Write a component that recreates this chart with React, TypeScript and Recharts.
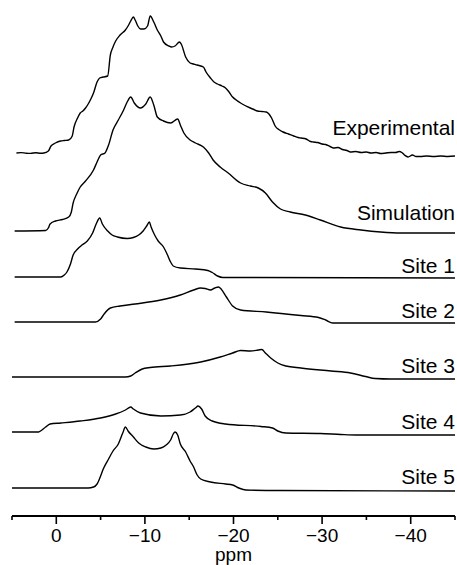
import { LineChart, Line, XAxis, YAxis, LabelList } from "recharts";

// chemical shift (ppm), intensity (a.u., baseline = 0)
const experimental: [number, number][] = [
  [4.5, 0], [4.0, 0.4], [3.4, -0.2], [2.9, -0.4], [2.3, 0.3], [1.8, -0.2], [1.4, 0], [0.9, 2],
  [0.6, 7], [0.1, 10], [-0.5, 12], [-0.9, 12.5], [-1.4, 13], [-1.8, 17], [-2.0, 26], [-2.4, 35],
  [-2.7, 40], [-3.0, 42], [-3.3, 45], [-3.6, 49], [-3.9, 54], [-4.2, 60], [-4.6, 71], [-4.9, 75],
  [-5.3, 76], [-5.8, 77], [-6.1, 98], [-6.4, 106], [-6.7, 112], [-7.2, 118], [-7.8, 123], [-8.1, 127],
  [-8.4, 132], [-8.7, 136], [-8.9, 133], [-9.2, 127], [-9.5, 124], [-9.9, 124], [-10.3, 127], [-10.6, 137],
  [-11.0, 131], [-11.4, 123], [-11.8, 117], [-12.1, 111], [-12.7, 107], [-13.0, 106], [-13.4, 107], [-13.9, 111],
  [-14.1, 109], [-14.6, 96], [-15.1, 90], [-15.5, 89], [-15.9, 88], [-16.6, 86], [-16.9, 81], [-17.4, 75],
  [-17.8, 71], [-18.2, 69], [-18.7, 67], [-19.1, 65], [-19.5, 61], [-19.9, 56], [-20.3, 53], [-20.8, 50],
  [-21.3, 47.5], [-21.9, 45], [-22.3, 43.5], [-22.7, 42], [-23.2, 41.5], [-23.7, 41], [-24.0, 39], [-24.3, 35],
  [-24.7, 27], [-25.2, 23], [-25.6, 21], [-26.2, 19], [-26.8, 17], [-27.3, 15.5], [-27.6, 15], [-28.2, 14],
  [-28.7, 11.5], [-29.0, 11], [-29.5, 10.5], [-30.0, 9], [-30.4, 8.5], [-30.9, 6.5], [-31.3, 5], [-31.8, 5.5],
  [-32.3, 3.5], [-32.8, 2.5], [-33.2, 1], [-33.8, 1.5], [-34.4, 0.5], [-35.0, 1], [-35.5, 0], [-36.1, 0.5],
  [-36.6, -0.5], [-37.2, 0], [-37.8, 0.5], [-38.3, 0.5], [-38.7, 1.5], [-39.0, 0.5], [-39.3, -2], [-39.7, -4],
  [-40.2, -2], [-40.6, -3.5], [-41.1, -3.5], [-41.8, -3], [-42.6, -3.5], [-43.4, -3], [-44.2, -3.5], [-45.0, -3],
];

const simulation: [number, number][] = [
  [4.7, 0], [1.2, 0.5], [0.9, 3], [0.7, 7], [0.1, 10], [-0.7, 11.5], [-1.4, 14], [-1.7, 19],
  [-1.9, 28], [-2.3, 37], [-2.7, 44], [-3.3, 50], [-4.2, 61], [-4.6, 69], [-5.0, 76], [-5.5, 78],
  [-5.9, 86], [-6.4, 101], [-7.0, 111], [-7.6, 121], [-8.0, 129], [-8.4, 134], [-8.8, 128], [-9.5, 123],
  [-10.1, 127], [-10.6, 134], [-11.0, 126], [-11.4, 114], [-12.1, 110], [-12.9, 108], [-13.7, 112], [-14.0, 106],
  [-14.4, 98], [-15.1, 91], [-15.7, 88], [-16.6, 84], [-17.2, 78], [-17.7, 71], [-18.5, 64], [-19.4, 58],
  [-20.8, 48], [-21.9, 45], [-22.8, 43], [-23.6, 38], [-24.4, 29], [-25.3, 22], [-26.4, 19], [-28.1, 16],
  [-29.8, 11], [-32.1, 4], [-34.4, 1], [-36.6, -1], [-38.9, -2], [-45.0, -2],
];

const site1: [number, number][] = [
  [4.7, 0], [-0.5, 0], [-0.9, 2], [-1.2, 5], [-1.6, 13], [-1.9, 22], [-2.4, 28], [-2.9, 32],
  [-3.5, 36], [-4.1, 44], [-4.5, 53], [-4.9, 59], [-5.2, 53], [-5.8, 46], [-6.3, 42], [-6.9, 40],
  [-8.0, 38.5], [-8.7, 39.5], [-9.3, 42], [-9.8, 46], [-10.2, 51], [-10.5, 55], [-10.7, 50], [-11.1, 42],
  [-11.5, 36], [-12.1, 30], [-12.5, 23], [-12.9, 15], [-13.2, 11], [-14.0, 9], [-15.7, 8], [-17.1, 6.5],
  [-17.6, 4.5], [-18.2, 1], [-18.8, -0.5], [-45.0, -1],
];

const site2: [number, number][] = [
  [4.7, 0], [-4.4, 0], [-5.0, 3], [-5.4, 8], [-6.1, 14], [-7.2, 16], [-8.9, 18], [-11.8, 22],
  [-14.0, 27], [-15.5, 32], [-16.3, 34], [-16.8, 33.5], [-17.4, 32], [-17.9, 34], [-18.3, 35], [-18.6, 33],
  [-19.2, 25], [-19.9, 16], [-20.8, 12], [-23.7, 10], [-27.6, 6.5], [-29.6, 4.5], [-30.4, 2], [-31.2, -1],
  [-45.0, -1],
];

const site3: [number, number][] = [
  [5.0, 0], [-7.8, 0], [-8.4, 1], [-8.9, 4], [-9.7, 8], [-10.6, 9.5], [-12.9, 11], [-16.3, 15],
  [-18.5, 20], [-19.9, 24], [-20.8, 26.5], [-21.9, 26], [-22.8, 27], [-23.2, 27.5], [-23.6, 24], [-24.2, 19],
  [-25.0, 14], [-25.9, 11], [-27.6, 9], [-31.0, 6], [-33.2, 4], [-34.9, 0.5], [-36.0, -1.5], [-37.7, -2],
  [-45.0, -2],
];

const site4: [number, number][] = [
  [5.0, 0], [2.0, 0], [1.7, 1.5], [1.2, 5], [0.7, 8], [-0.5, 9], [-2.7, 11], [-5.0, 14],
  [-6.7, 18], [-7.8, 22], [-8.4, 25], [-8.7, 23], [-9.5, 19], [-11.8, 16], [-14.0, 17], [-15.1, 20],
  [-15.7, 24], [-16.0, 26], [-16.4, 23], [-16.8, 16], [-17.6, 11], [-19.1, 8], [-23.1, 5.5], [-24.4, 4],
  [-25.0, 1], [-25.9, -1], [-29.8, -1.5], [-32.1, -2.5], [-33.8, -3], [-45.0, -3],
];

const site5: [number, number][] = [
  [5.0, 0], [-3.6, 0], [-4.2, 1], [-4.6, 4], [-5.0, 12], [-5.3, 19], [-5.9, 29], [-6.4, 37],
  [-7.0, 44], [-7.5, 55], [-7.8, 61], [-8.1, 57], [-8.7, 51], [-9.3, 45], [-10.1, 41], [-11.0, 39],
  [-11.8, 40], [-12.4, 43], [-12.9, 48], [-13.2, 54], [-13.4, 56], [-13.7, 53], [-14.0, 44], [-14.6, 36],
  [-15.1, 27], [-15.5, 21], [-15.9, 13], [-16.3, 9], [-17.4, 6], [-19.1, 4], [-19.9, 3], [-20.6, 0],
  [-21.4, -2], [-25.3, -2.5], [-45.0, -3],
];

const traceNames = ["Experimental", "Simulation", "Site 1", "Site 2", "Site 3", "Site 4", "Site 5"];
const traces = [experimental, simulation, site1, site2, site3, site4, site5];
// vertical stacking of the spectra
const stackOffset = [363, 285, 239, 194, 139, 84, 28];
const labelLift = [21, 13, 5, 5, 6, 6, 7];

const xTicks = [5, 0, -5, -10, -15, -20, -25, -30, -35, -40, -45];

const FONT = "'Liberation Sans', Arial, Helvetica, sans-serif";

const PpmTick = (props: any) => {
  const { x, y, payload } = props;
  const v = payload.value as number;
  const major = v % 10 === 0;
  return (
    <g>
      <line x1={x} y1={y} x2={x} y2={y + (major ? 8 : 4)} stroke="#000" strokeWidth={1.6} />
      {major && (
        <text x={x} y={y + 26} textAnchor="middle" fontSize={19} fontFamily={FONT} fill="#000">
          {v === 0 ? "0" : "\u2212" + Math.abs(v)}
        </text>
      )}
    </g>
  );
};

const makeLabel = (name: string, lift: number, last: number) => (props: any) => {
  if (props.index !== last) return null;
  return (
    <text x={props.x} y={props.y - lift} textAnchor="end" fontSize={21} fontFamily={FONT} fill="#000">
      {name}
    </text>
  );
};

export default function App() {
  const series = traces.map((pts, i) => ({
    name: traceNames[i],
    data: pts.map(([x, y]) => ({ x, y: y + stackOffset[i] })),
  }));

  return (
    <div style={{ position: "fixed", left: 0, top: 0, width: 457, height: 565, background: "#fff" }}>
      <LineChart width={457} height={565} margin={{ top: 10, right: 2, left: 12, bottom: 4 }}>
        <XAxis
          dataKey="x"
          type="number"
          domain={[-45, 5]}
          reversed
          ticks={xTicks}
          interval={0}
          tickLine={false}
          tickSize={0}
          tickMargin={0}
          height={45}
          axisLine={{ stroke: "#000", strokeWidth: 1.8 }}
          tick={<PpmTick />}
          allowDataOverflow
          label={{ value: "ppm", position: "insideBottom", offset: 0, fontSize: 19, fontFamily: FONT, fill: "#000" }}
        />
        <YAxis hide type="number" domain={[0, 506]} allowDataOverflow />
        {series.map((s, i) => (
          <Line
            key={s.name}
            data={s.data}
            dataKey="y"
            type="monotone"
            stroke="#000"
            strokeWidth={1.4}
            dot={false}
            isAnimationActive={false}
          >
            <LabelList dataKey="y" content={makeLabel(s.name, labelLift[i], s.data.length - 1)} />
          </Line>
        ))}
      </LineChart>
    </div>
  );
}
